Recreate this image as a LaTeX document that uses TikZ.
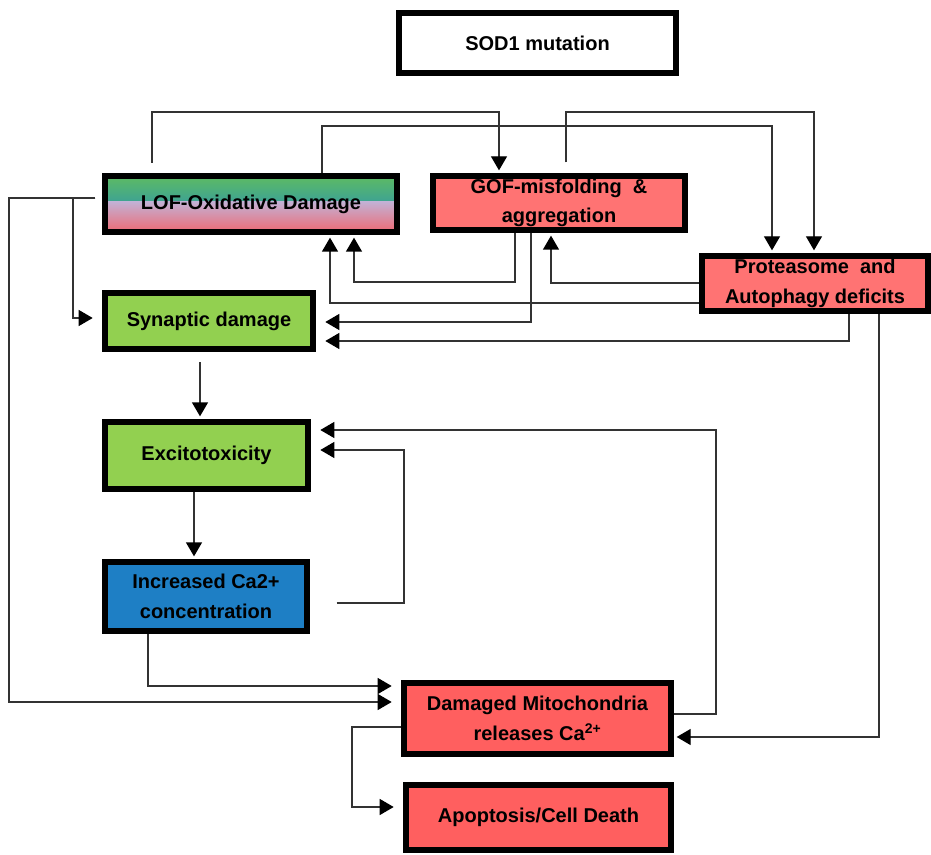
\documentclass[tikz,border=0pt]{standalone}
\usepackage{fontspec}
\setmainfont{Liberation Sans}
\usetikzlibrary{arrows.meta}
\definecolor{lofgreen}{HTML}{5DBB63}
\definecolor{lofblue}{HTML}{1A86CA}
\definecolor{loflav}{HTML}{C2B2D6}
\definecolor{lofred}{HTML}{EE6A74}
\definecolor{gofpink}{HTML}{FF7373}
\definecolor{mitored}{HTML}{FF5F5F}
\definecolor{syngreen}{HTML}{92D050}
\definecolor{cablue}{HTML}{1E7FC5}
\definecolor{linegray}{HTML}{333333}
\tikzstyle{box} = [rectangle, draw=black, line width=4.5pt, inner sep=0pt, text centered, align=center, font=\fontsize{15}{22}\selectfont\bfseries]
\tikzstyle{whitebox} = [box, fill=white]
\tikzstyle{pinkbox} = [box, fill=gofpink]
\tikzstyle{redbox} = [box, fill=mitored]
\tikzstyle{greenbox} = [box, fill=syngreen]
\tikzstyle{bluebox} = [box, fill=cablue]
\tikzstyle{lofbox} = [box, path picture={
    \shade[top color=lofgreen, bottom color=lofblue] (path picture bounding box.north west) rectangle ([yshift=2pt]path picture bounding box.east);
    \shade[top color=loflav, bottom color=lofred] ([yshift=2pt]path picture bounding box.west) rectangle (path picture bounding box.south east);}]
\tikzstyle{arrow} = [line width=1pt, draw=linegray, -{Triangle[length=10.5pt,width=12pt,color=black]}, shorten >=2pt]
\tikzstyle{gap} = [shorten >=7pt]

\begin{document}
\begin{tikzpicture}[x=0.75pt, y=-0.75pt]
    \useasboundingbox (0,0) rectangle (931,855);
    \node (sod) [whitebox, minimum width=207.75pt, minimum height=45pt] at (537.5,43) {SOD1 mutation};
    \node (lof) [lofbox, minimum width=219pt, minimum height=42pt] at (251,204) {LOF-Oxidative Damage};
    \node (gof) [pinkbox, minimum width=189pt, minimum height=40.5pt] at (559,203) {GOF-misfolding \ \&\\aggregation};
    \node (prot) [pinkbox, minimum width=169.5pt, minimum height=41.25pt] at (815,283.5) {Proteasome \ and\\Autophagy deficits};
    \node (syn) [greenbox, minimum width=156pt, minimum height=42pt] at (209,321) {Synaptic damage};
    \node (exc) [greenbox, minimum width=152.25pt, minimum height=50.25pt] at (206.5,455.5) {Excitotoxicity};
    \node (inc) [bluebox, minimum width=151.5pt, minimum height=51.75pt] at (206,596.5) {Increased Ca2+\\concentration};
    \node (mito) [redbox, minimum width=200.25pt, minimum height=53.25pt] at (537.5,718.5) {Damaged Mitochondria\\releases Ca\textsuperscript{2+}};
    \node (apo) [redbox, minimum width=198.75pt, minimum height=48.75pt] at (538.5,817.5) {Apoptosis/Cell Death};

    % top loops
    \draw [arrow, shorten <=7.5pt] (lof.north -| 152,0) -- (152,112) -| (gof.north -| 499,0);
    \draw [arrow] (lof.north -| 322,0) -- (322,126) -| (prot.north -| 772,0);
    \draw [arrow, shorten <=8pt] (gof.north -| 566,0) -- (566,112) -| (prot.north -| 814,0);
    % back to LOF and GOF
    \draw [arrow] (gof.south -| 515,0) -- (515,282) -| (lof.south -| 354,0);
    \draw [arrow] (prot.west |- 0,303) -| (lof.south -| 330,0);
    \draw [arrow] (prot.west |- 0,283) -| (gof.south -| 551,0);
    % into synaptic damage
    \draw [arrow, gap] (gof.south -| 531,0) |- (syn.east |- 0,322);
    \draw [arrow, gap] (prot.south -| 849,0) |- (syn.east |- 0,341);
    \draw [arrow, shorten <=5pt, gap] (lof.west |- 0,198) -- (73,198) |- (syn.west |- 0,318);
    % left column
    \draw [arrow, shorten <=7.5pt] (syn.south -| 200,0) -- (exc.north -| 200,0);
    \draw [arrow] (exc.south -| 194,0) -- (inc.north -| 194,0);
    \draw [arrow, shorten <=20pt, gap] (inc.east |- 0,603) -- (404,603) |- (exc.east |- 0,450);
    \draw [arrow, gap] (mito.east |- 0,714) -- (716,714) |- (exc.east |- 0,430);
    % into mitochondria
    \draw [arrow, shorten <=5pt, gap] (lof.west |- 0,198) -- (9,198) |- (mito.west |- 0,702);
    \draw [arrow, gap] (inc.south -| 148,0) |- (mito.west |- 0,686);
    \draw [arrow] (prot.south -| 879,0) |- (mito.east |- 0,737);
    \draw [arrow, gap] (mito.west |- 0,727) -- (352,727) |- (apo.west |- 0,807);
\end{tikzpicture}
\end{document}
